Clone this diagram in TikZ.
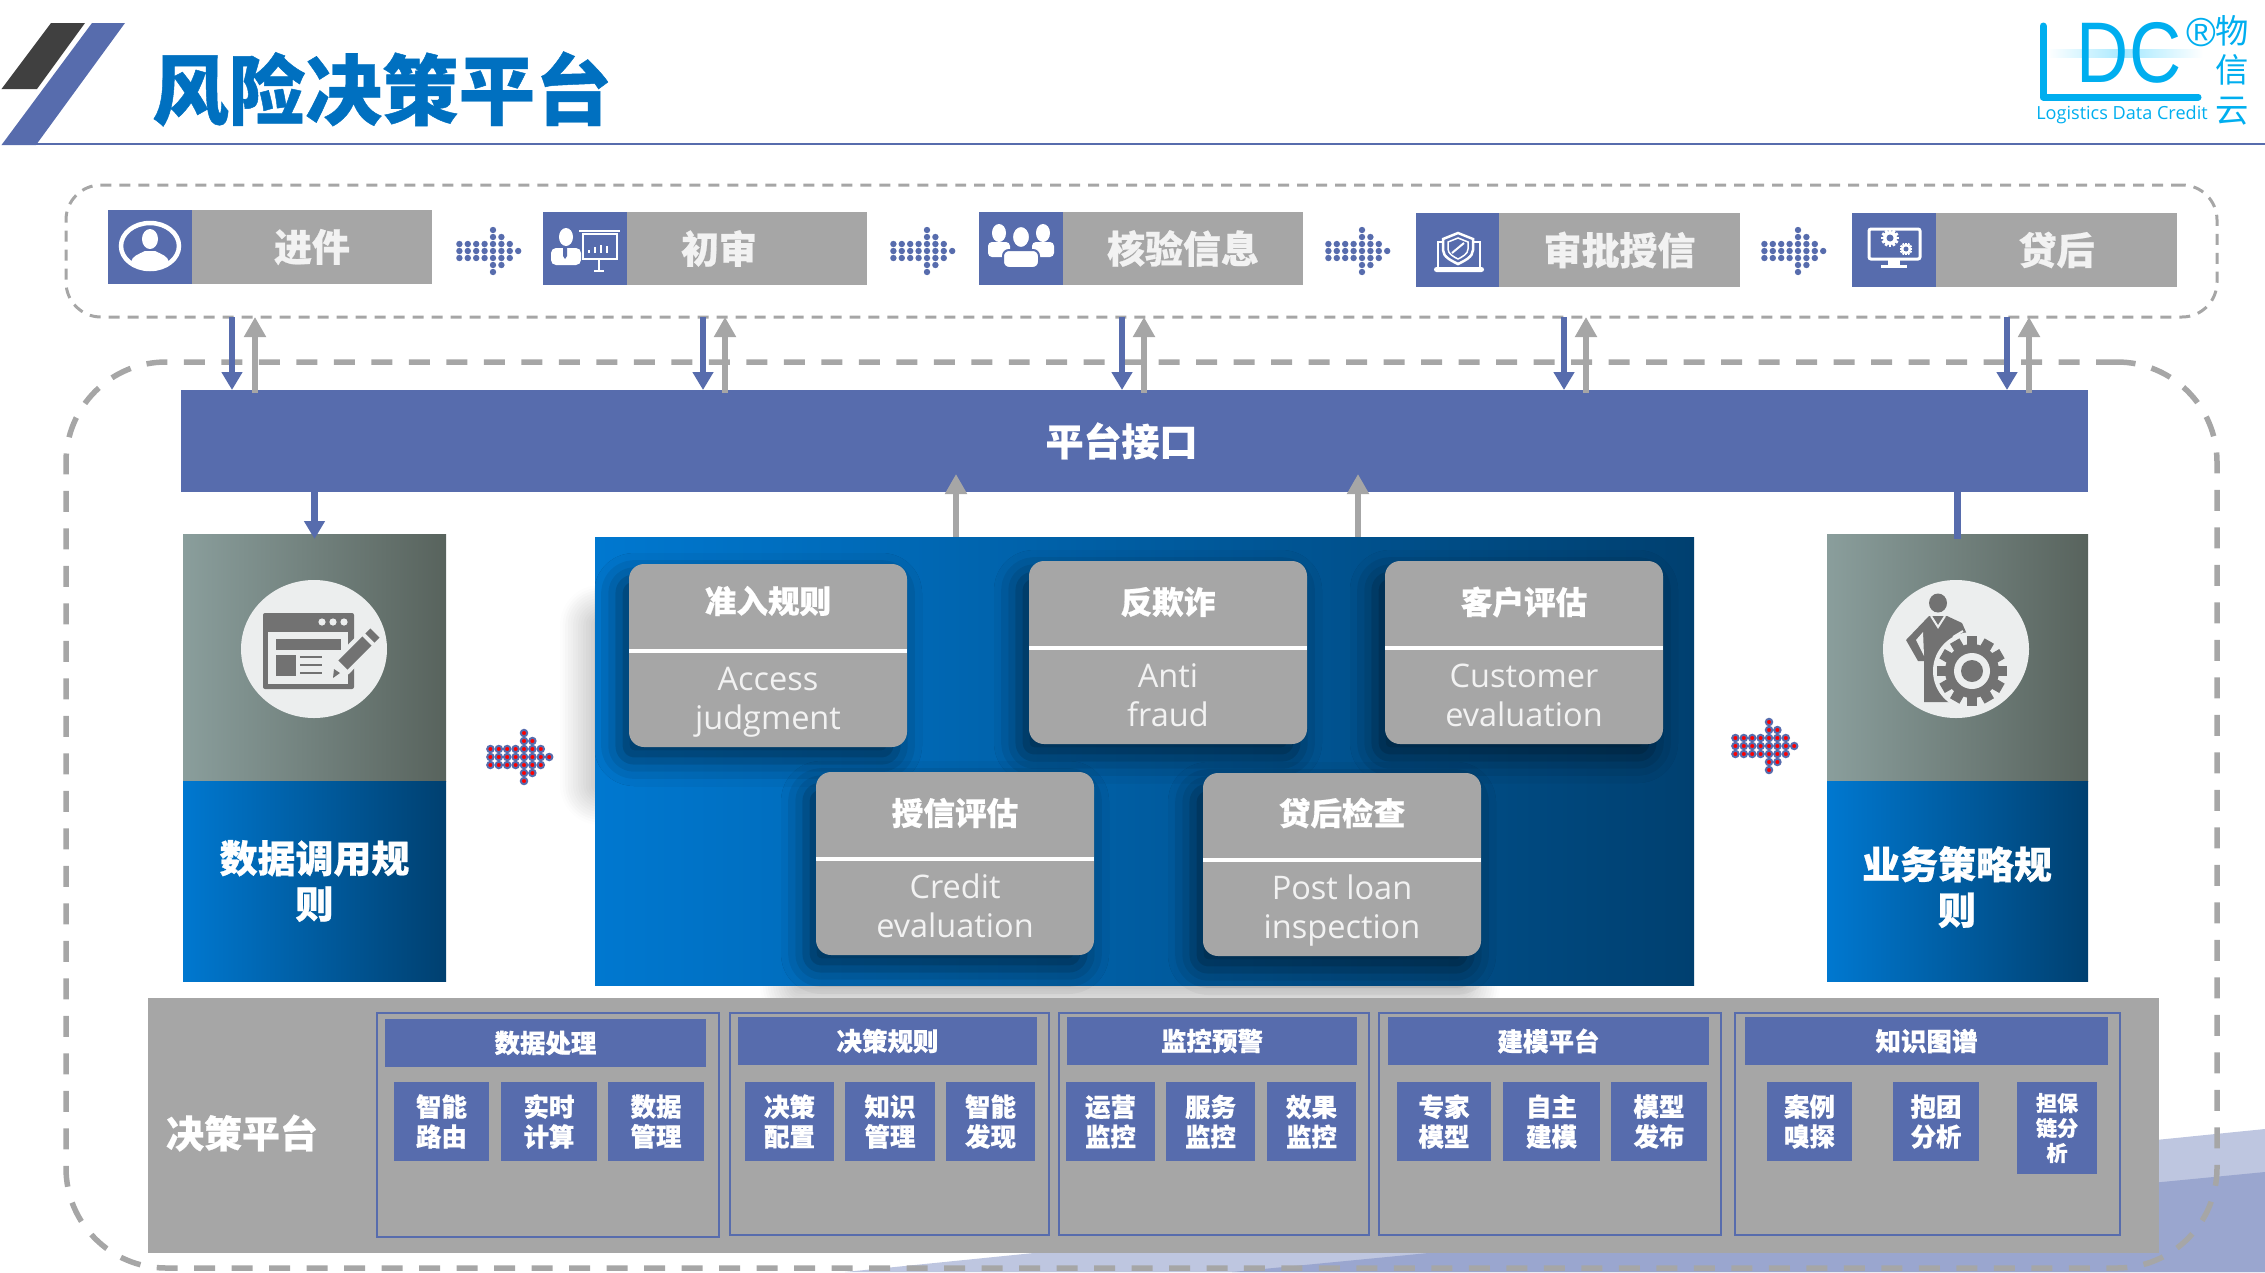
\documentclass[tikz,border=0pt]{standalone}
\usepackage{fontspec}
\setmainfont{Noto Sans CJK SC}[BoldFeatures={FakeBold=0.6}]
\newfontfamily\enfont{Open Sans}
\newfontfamily\logofont{Liberation Sans}
\usetikzlibrary{positioning,arrows.meta,shadows.blur}
\definecolor{dkblue}{HTML}{576CAD}
\definecolor{midgrey}{HTML}{A6A6A6}
\definecolor{inkgrey}{HTML}{727272}
\definecolor{paleface}{HTML}{ECEEEE}
\definecolor{brandblue}{HTML}{0070C0}
\definecolor{logocyan}{HTML}{00AEEF}
\definecolor{bluelight}{HTML}{0078D0}
\definecolor{bluedark}{HTML}{004070}
\definecolor{greylight}{HTML}{8A9E9C}
\definecolor{greydark}{HTML}{58635D}
\definecolor{wedgepale}{HTML}{BEC6E0}
\definecolor{wedgedeep}{HTML}{9AA6CF}
\newcommand{\gearshape}[5]{% x, y, radius, ink, hole
  \foreach \a in {0,30,...,330} \fill[#4,rotate around={\a:(#1,#2)}] ({#1-#3*.2},#2) rectangle ({#1+#3*.2},{#2-#3*1.28});
  \fill[#4] (#1,#2) circle[radius=#3];
  \fill[#5] (#1,#2) circle[radius=#3*.5];
}
\tikzset{
  spanbox/.style n args={4}{minimum width={(#3-#1)*0.02cm},minimum height={(#4-#2)*0.02cm},at={({(#1+#3)/2},{(#2+#4)/2})}},
  iconbox/.style={fill=dkblue},
  flowlabel/.style={fill=midgrey,text=white!95!black,font=\fontsize{21.6}{26}\selectfont\bfseries},
  downarrow/.style={draw=dkblue,line width=0.13cm,-{Triangle[width=0.4cm,length=0.36cm]}},
  uparrow/.style={draw=midgrey,line width=0.13cm,-{Triangle[width=0.42cm,length=0.4cm]}},
  greyhead/.style={left color=greylight,right color=greydark},
  bluefoot/.style={left color=bluelight,right color=bluedark,text=white,align=center,font=\fontsize{21.6}{26}\selectfont\bfseries},
  rulecard/.style={fill=midgrey,rounded corners=0.3cm,blur shadow={shadow xshift=-0.2cm,shadow yshift=-0.28cm,shadow blur radius=0.5cm,shadow opacity=55}},
  ruletitle/.style={text=white,font=\fontsize{18}{22}\selectfont\bfseries},
  ruletext/.style={text=white!95!black,align=center,font=\enfont\fontsize{18.5}{22}\selectfont},
  panelglow/.style={fill=bluedark,blur shadow={shadow xshift=0cm,shadow yshift=0cm,shadow blur radius=0.8cm,shadow blur steps=16,shadow opacity=45}},
  modframe/.style={draw=dkblue,line width=0.05cm},
  modhead/.style={fill=dkblue,text=white,font=\fontsize{14.5}{18}\selectfont\bfseries},
  modcell/.style={fill=dkblue,text=white,align=center,font=\fontsize{14.5}{17}\selectfont\bfseries},
  plaindot/.style={fill=dkblue},
  reddot/.style={fill=red,draw=dkblue,line width=0.04cm},
  pics/dotarrow/.style n args={2}{code={
    \foreach \c/\h in {-4/1,-3/1,-2/1,-1/1,0/3,1/2,2/1,3/0}
      \foreach \r in {-\h,...,\h}
        \path[#2] (\c*8.4,\r*#1) circle[radius=3.2];
  }},
  usericon/.pic={
    \draw[white,line width=0.09cm] (0,0) ellipse (29 and 23);
    \fill[white] (0,-7) ellipse (8 and 10);
    \fill[white] (-19,16) .. controls (-18,10) and (-11,8) .. (-5,5) -- (5,5) .. controls (11,8) and (18,10) .. (19,16) .. controls (10,23) and (-10,23) .. cycle;
  },
  boardicon/.pic={
    \fill[white] (-19,-13) ellipse (7 and 9);
    \fill[white,rounded corners=0.1cm] (-34,15) -- (-34,-2) -- (-4,-2) -- (-4,15) -- cycle;
    \fill[dkblue] (-22,-2) -- (-18,-2) -- (-18,6) -- (-20,9) -- (-22,6) -- cycle;
    \draw[white,line width=0.04cm] (-6,-19) -- (35,-19);
    \draw[white,line width=0.05cm] (-2,-16) rectangle (32,9);
    \foreach \x/\h in {4/3,10/6,16/8,22/7} \draw[white,line width=0.05cm] (\x,3) -- (\x,3-\h);
    \draw[white,line width=0.05cm] (14,9) -- (14,21) (9,21) -- (19,21);
  },
  crowdicon/.pic={
    \foreach \s in {-1,1} {
      \fill[white] (\s*22,-17) ellipse (7 and 9);
      \fill[white,rounded corners=0.08cm] (\s*11,7) -- (\s*11,-8) -- (\s*33,-8) -- (\s*33,7) -- cycle;
    }
    \fill[white,draw=dkblue,line width=0.04cm] (0,-13) ellipse (9 and 11);
    \fill[white,draw=dkblue,line width=0.04cm,rounded corners=0.12cm] (-18,18) -- (-18,0) -- (18,0) -- (18,18) -- cycle;
  },
  shieldicon/.pic={
    \draw[white,line width=0.05cm] (-20,18) -- (-20,-8) -- (22,-8) -- (22,18);
    \fill[white,rounded corners=0.05cm] (-24,17) rectangle (26,22);
    \draw[white,fill=dkblue,line width=0.05cm] (0,-17) -- (15,-11) -- (15,0) .. controls (15,7) and (6,11) .. (0,14) .. controls (-6,11) and (-15,7) .. (-15,0) -- (-15,-11) -- cycle;
    \draw[white,line width=0.03cm] (0,-12) -- (10,-8) -- (10,-1) .. controls (10,4) and (4,7) .. (0,9) .. controls (-4,7) and (-10,4) .. (-10,-1) -- (-10,-8) -- cycle;
    \draw[white,line width=0.04cm] (-6,3) -- (6,-7);
  },
  monitoricon/.pic={
    \draw[white,line width=0.06cm,rounded corners=0.04cm] (-25,-21) rectangle (26,9);
    \fill[white] (-6,9) rectangle (6,15);
    \fill[white] (-13,15) rectangle (13,18);
    \gearshape{-4}{-12}{7}{white}{dkblue}
    \gearshape{12}{-1}{5}{white}{dkblue}
  },
  formicon/.pic={
    \fill[inkgrey,rounded corners=0.04cm] (-51,-36) rectangle (40,40);
    \fill[paleface] (-46,-17) rectangle (34,35);
    \foreach \x in {8,19,30} \fill[paleface] (\x,-27) circle[radius=3.6];
    \fill[inkgrey] (-38,-10) rectangle (27,1);
    \fill[inkgrey] (-38,6) rectangle (-18,27);
    \foreach \y in {8,16,24} \draw[inkgrey,line width=0.04cm] (-14,\y) -- (8,\y);
    \draw[paleface,line width=0.42cm] (27,18) -- (62,-18);
    \draw[inkgrey,line width=0.26cm] (29,16) -- (53,-8);
    \draw[inkgrey,line width=0.26cm] (56,-11) -- (61,-16);
    \fill[inkgrey] (26,24) -- (19,29) -- (20,20) -- cycle;
  },
  suiticon/.pic={
    \fill[inkgrey] (-18,-46) ellipse (9 and 9.5);
    \fill[inkgrey] (-27,-33) -- (-50,-9) -- (-38,12) -- (-32,12) -- (-32,53) -- (-4,53) -- (-4,40) -- (13,-10) -- (6,-26) -- (-9,-33) -- cycle;
    \draw[paleface,line width=0.04cm] (-25,-33) -- (-18,-22) -- (-11,-33);
    \fill[paleface] (-40,-9) -- (-33,-17) -- (-32,7) -- cycle;
    \draw[paleface,line width=0.04cm] (-3,-12) -- (7,-18);
    \fill[paleface] (16,22) circle[radius=39];
    \gearshape{16}{22}{27}{inkgrey}{paleface}
    \fill[paleface] (16,22) circle[radius=18];
    \fill[inkgrey] (16,22) circle[radius=11];
  },
}
\begin{document}
\begin{tikzpicture}[x=0.02cm,y=-0.02cm,every node/.style={inner sep=0pt,outer sep=0pt}]
\useasboundingbox (0,0) rectangle (2265,1272);
% corner wedges behind everything
\fill[wedgepale] (845,1272) -- (2265,1129) -- (2265,1272) -- cycle;
\fill[wedgedeep] (1232,1272) -- (2265,1172) -- (2265,1272) -- cycle;
% title band
\fill[black!75] (51,23) -- (85,23) -- (37,89) -- (1.5,89) -- cycle;
\fill[dkblue] (92,23) -- (125,23) -- (36,145) -- (1.5,145) -- cycle;
\draw[dkblue,line width=0.05cm] (36,144) -- (2265,144);
\node[text=brandblue,font=\fontsize{43.6}{44}\selectfont\bfseries] (pagetitle) at (382,89) {风险决策平台};
% logo
\shade[left color=white,right color=white,middle color=blue!25!cyan!35] (2047,49) rectangle (2203,57);
\draw[logocyan,line width=0.14cm,line cap=round,line join=round] (2043,26) -- (2043,97) -- (2198,97);
\node[text=logocyan,xscale=.84,transform shape,font=\logofont\fontsize{49}{49}\selectfont] (logodc) at (2129,53) {DC};
\node[text=logocyan,font=\logofont\fontsize{23}{23}\selectfont] (logomark) at (2201,33) {®};
\node[text=logocyan,font=\enfont\fontsize{10.3}{10.3}\selectfont] (logoline) at (2122,115) {Logistics Data Credit};
\foreach \y/\t in {31/物,70/信,111/云}
  \node[text=logocyan,font=\fontsize{19}{19}\selectfont] (logo\t) at (2232,\y) {\t};
% outer dashed frames
\node[draw=midgrey,line width=0.06cm,dash pattern=on 0.22cm off 0.16cm,rounded corners=0.7cm,spanbox={66}{185}{2217}{317}] (flowbox) {};
\node[draw=midgrey,line width=0.11cm,dash pattern=on 0.42cm off 0.33cm,rounded corners=2cm,spanbox={66}{362}{2217}{1268}] (platbox) {};
% process steps
\node[iconbox,spanbox={108}{210}{192}{284}] (icon1) {};
\node[flowlabel,spanbox={192}{210}{432}{284}] (step1) {进件};
\node[iconbox,spanbox={543}{212}{627}{285}] (icon2) {};
\node[flowlabel,spanbox={627}{212}{867}{285}] (step2) {初审\kern1.12cm};
\node[iconbox,spanbox={979}{212}{1063}{285}] (icon3) {};
\node[flowlabel,spanbox={1063}{212}{1303}{285}] (step3) {核验信息};
\node[iconbox,spanbox={1416}{213}{1499}{287}] (icon4) {};
\node[flowlabel,spanbox={1499}{213}{1740}{287}] (step4) {审批授信};
\node[iconbox,spanbox={1852}{213}{1936}{287}] (icon5) {};
\node[flowlabel,spanbox={1936}{213}{2177}{287}] (step5) {贷后};
\pic at (150,246) {usericon};
\pic at (585,250) {boardicon};
\pic at (1021,250) {crowdicon};
\pic at (1458,250) {shieldicon};
\pic at (1894,250) {monitoricon};
\foreach \x in {493,927,1362,1798}
  \pic at (\x,251) {dotarrow={7}{plaindot}};
% interface bar
\node[fill=dkblue,text=white,font=\fontsize{21.6}{26}\selectfont\bfseries,spanbox={181}{390}{2088}{492}] (apibar) {平台接口\kern0.52cm};
\foreach \x in {232,703,1122,1564,2007}
  \draw[downarrow] (\x,0 |- flowbox.south) -- (\x,0 |- apibar.north);
\foreach \x in {255,725,1144,1586,2029}
  \draw[uparrow,shorten <=-0.06cm] (\x,0 |- apibar.north) -- (\x,0 |- flowbox.south);
% side columns
\node[greyhead,spanbox={183}{534}{446}{781}] (lefthead) {};
\node[bluefoot,spanbox={183}{781}{446}{981}] (leftfoot) {数据调用规\\则};
\node[greyhead,spanbox={1827}{534}{2088}{781}] (righthead) {};
\node[left color=bluelight,right color=bluedark,spanbox={1827}{781}{2088}{981}] (rightfoot) {};
\node[text=white,align=center,font=\fontsize{21.6}{26}\selectfont\bfseries] (rightname) at (1957,887) {业务策略规\\则};
\fill[paleface] (314,649) ellipse (73 and 69);
\fill[paleface] (1956,649) ellipse (73 and 69);
\pic at (314,649) {formicon};
\pic at (1956,649) {suiticon};
\draw[downarrow] (apibar.south -| lefthead.north) -- ([yshift=-0.1cm]lefthead.north);
\draw[dkblue,line width=0.14cm] (apibar.south -| righthead.north) -- ([yshift=-0.1cm]righthead.north);
\pic at (524,757) {dotarrow={8}{reddot}};
\pic at (1769,746) {dotarrow={8}{reddot}};
% rule panel
\path[panelglow] (600,625) rectangle (720,785);
\path[panelglow] (800,900) rectangle (1460,985);
\node[left color=bluelight,right color=bluedark,spanbox={595}{537}{1694}{985}] (rulepanel) {};
\foreach \x in {956,1358}
  \draw[uparrow,shorten >=-0.36cm] (\x,0 |- rulepanel.north) -- (\x,0 |- apibar.south);
\foreach \k/\xa/\ya/\yt/\head/\body in {
  access/629/564/37/准入规则/Access\\judgment,
  fraud/1029/561/41/反欺诈/Anti\\fraud,
  custom/1385/561/41/客户评估/Customer\\evaluation,
  credit/816/772/41/授信评估/Credit\\evaluation,
  postloan/1203/773/40/贷后检查/Post loan\\inspection} {
  \node[rulecard,spanbox={\xa}{\ya}{\xa+278}{\ya+183}] (\k) {};
  \draw[white,line width=0.09cm] (\xa,\ya+87) -- (\xa+278,\ya+87);
  \node[ruletitle] (\k head) at (\xa+139,\ya+\yt) {\head};
  \node[ruletext,anchor=base] (\k text) at (\xa+139,\ya+165.5) {\body};
}
% decision platform
\node[fill=midgrey,spanbox={148}{998}{2159}{1253}] (platform) {};
\node[text=white,font=\fontsize{21.6}{26}\selectfont\bfseries] (platname) at (242,1133) {决策平台};
\node[modframe,spanbox={377}{1013}{719}{1237}] (mod1) {};
\node[modhead,spanbox={385}{1019}{706}{1067}] (mod1head) {数据处理};
\foreach \k/\xa/\xb/\xc/\xd/\t in {
  2/730/1049/738/1037/决策规则,
  3/1059/1369/1067/1357/监控预警,
  4/1379/1721/1388/1709/建模平台,
  5/1735/2120/1745/2108/知识图谱} {
  \node[modframe,spanbox={\xa}{1013}{\xb}{1235}] (mod\k) {};
  \node[modhead,spanbox={\xc}{1017}{\xd}{1065}] (mod\k head) {\t};
}
\foreach \k/\xa/\xb/\t in {
  a/394/489/智能\\路由, b/501/597/实时\\计算, c/608/704/数据\\管理,
  d/745/834/决策\\配置, e/845/935/知识\\管理, f/946/1035/智能\\发现,
  g/1066/1155/运营\\监控, h/1166/1255/服务\\监控, i/1267/1356/效果\\监控,
  j/1397/1491/专家\\模型, k/1503/1600/自主\\建模, l/1611/1707/模型\\发布,
  m/1767/1852/案例\\嗅探, n/1893/1979/抱团\\分析}
  \node[modcell,spanbox={\xa}{1082}{\xb}{1161}] (cell\k) {\t};
\node[modcell,font=\fontsize{12}{14.2}\selectfont\bfseries,spanbox={2017}{1082}{2097}{1174}] (cello) {担保\\链分\\析};
\end{tikzpicture}
\end{document}
